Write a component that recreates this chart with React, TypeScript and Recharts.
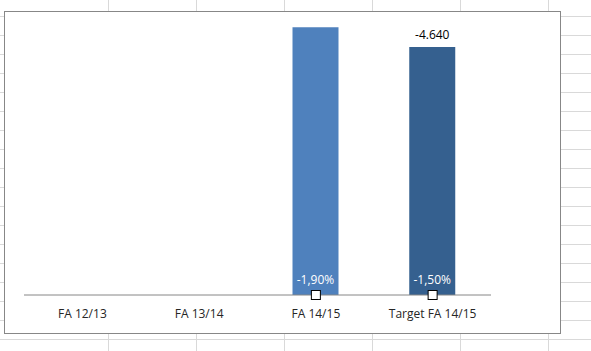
import { ComposedChart, Bar, Line, XAxis, YAxis, Cell, LabelList } from 'recharts';

const categories = ['FA 12/13', 'FA 13/14', 'FA 14/15', 'Target FA 14/15'];
const savings = [null, null, 5010, 4640];
const savingsLabels = ['', '', '', '-4.640'];
const ratioLabels = ['', '', '-1,90%', '-1,50%'];
const markerValues = [null, null, 0, 0];
const barColors = ['#4F81BD', '#4F81BD', '#4F81BD', '#35608F'];

const data = categories.map((name, i) => ({
  name,
  value: savings[i],
  topLabel: savingsLabels[i],
  ratio: ratioLabels[i],
  marker: markerValues[i],
}));

const font = '"Open Sans", "Segoe UI", sans-serif';

// spreadsheet cell lines behind the chart
const colLines = [108.5, 196.5, 284.5, 372.5, 460.5, 548.5];
const rowLines = Array.from({ length: 18 }, (_, k) => 16.5 + 19 * k);

function SquareDot(props: any) {
  const { cx, cy, index } = props;
  if (cx == null || cy == null) return null;
  return <rect key={index} x={cx - 4.5} y={cy - 4.5} width={9} height={9} fill="#fff" stroke="#000" strokeWidth={1} />;
}

export default function App() {
  return (
    <div style={{ position: 'fixed', left: 0, top: 0, width: 591, height: 351, background: '#fff', fontFamily: font }}>
      <svg width={591} height={351} style={{ position: 'absolute', left: 0, top: 0 }}>
        {colLines.map((x) => (
          <line key={'c' + x} x1={x} x2={x} y1={0} y2={351} stroke="#d9d9d9" />
        ))}
        {rowLines.map((y) => (
          <line key={'r' + y} x1={0} x2={591} y1={y} y2={y} stroke="#d9d9d9" />
        ))}
        <rect x={4.5} y={11.5} width={556} height={322} fill="#fff" stroke="#878787" />
      </svg>
      <div style={{ position: 'absolute', left: 0, top: 0 }}>
        <ComposedChart width={591} height={351} data={data} margin={{ top: 17, right: 100, bottom: 26, left: 24 }}>
          <XAxis
            dataKey="name"
            height={30}
            tickLine={false}
            tickMargin={8}
            axisLine={{ stroke: '#868686' }}
            tick={{ fill: '#262626', fontSize: 12, fontFamily: font }}
            interval={0}
          />
          <YAxis hide domain={[0, 5200]} />
          <Bar dataKey="value" barSize={46} isAnimationActive={false}>
            {data.map((d, i) => (
              <Cell key={d.name} fill={barColors[i]} />
            ))}
            <LabelList dataKey="topLabel" position="top" offset={8} fill="#000" fontSize={12} fontFamily={font} />
            <LabelList dataKey="ratio" position="insideBottom" offset={11} fill="#fff" fontSize={12} fontFamily={font} />
          </Bar>
          <Line dataKey="marker" stroke="none" dot={<SquareDot />} activeDot={false} isAnimationActive={false} />
        </ComposedChart>
      </div>
    </div>
  );
}
